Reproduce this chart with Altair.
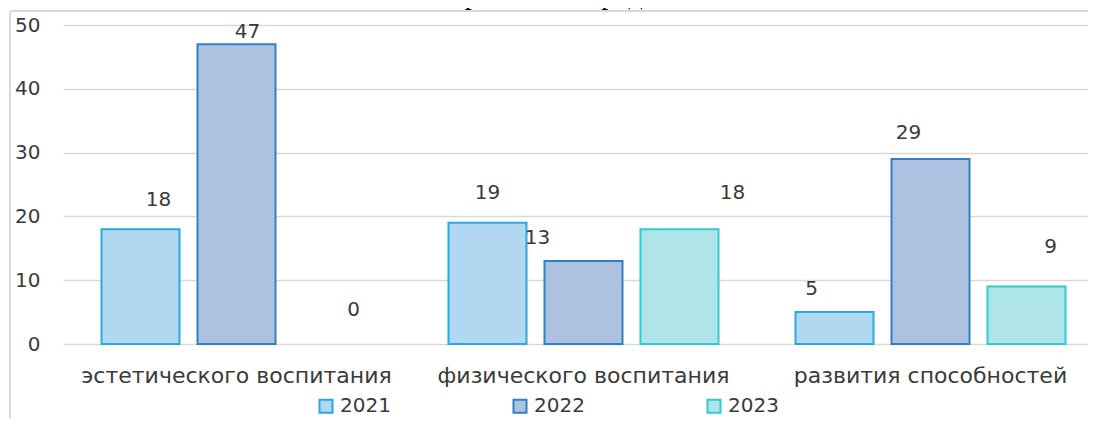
import altair as alt
import pandas as pd

categories = ["эстетического воспитания", "физического воспитания", "развития способностей"]
years = ["2021", "2022", "2023"]
values_2021 = [18, 19, 5]
values_2022 = [47, 13, 29]
values_2023 = [0, 18, 9]
title_text = "района и города"

rows = []
for i, c in enumerate(categories):
    for y, vals in zip(years, [values_2021, values_2022, values_2023]):
        rows.append({"category": c, "year": y, "value": vals[i]})
df = pd.DataFrame(rows)

# label offsets (px) as placed in the original, per (category, year)
label_dx = {
    (0, 0): 18, (0, 1): 11, (0, 2): 21,
    (1, 0): 0, (1, 1): -46, (1, 2): 53,
    (2, 0): -23, (2, 1): -22, (2, 2): 24,
}
label_dy = {
    (0, 0): -29, (0, 1): -12, (0, 2): -34,
    (1, 0): -30, (1, 1): -23, (1, 2): -36,
    (2, 0): -23, (2, 1): -26, (2, 2): -40,
}

FONT = "DejaVu Sans"
FS = 20
TXT = "#3a3a3a"
fills = ["#b2d7f1", "#adc2e0", "#afe5e8"]
strokes = ["#27a9e1", "#2f80c5", "#2ecad6"]

x_enc = alt.X("category:N", sort=categories, title=None,
              scale=alt.Scale(domain=categories, range=[0, 1041],
                              paddingInner=0, paddingOuter=0),
              axis=alt.Axis(labelFontSize=22, labelFont=FONT, labelColor=TXT,
                            labelAngle=0, domain=False, ticks=False,
                            labelPadding=21, labelLimit=400))
xo_enc = alt.XOffset("year:N", sort=years,
                     scale=alt.Scale(domain=years, paddingInner=0.1875,
                                     paddingOuter=0.401))
y_enc = alt.Y("value:Q", title=None,
              scale=alt.Scale(domain=[0, 50], nice=False),
              axis=alt.Axis(values=[0, 10, 20, 30, 40, 50], labelFontSize=FS,
                            labelFont=FONT, labelColor=TXT, domain=False,
                            ticks=False, labelPadding=23, gridColor="#d9d9d9",
                            gridWidth=1.5))

bars = alt.Chart(df).transform_filter(alt.datum.value > 0).mark_bar(
    strokeWidth=2).encode(
    x=x_enc, xOffset=xo_enc, y=y_enc,
    color=alt.Color("year:N", sort=years,
                    scale=alt.Scale(domain=years, range=fills),
                    legend=alt.Legend(title=None, orient="none", legendX=253,
                                      legendY=371, direction="horizontal",
                                      symbolType="square", symbolSize=170,
                                      symbolStrokeWidth=2, labelFontSize=FS,
                                      labelFont=FONT, labelColor=TXT,
                                      columnPadding=118, labelOffset=4)),
    stroke=alt.Stroke("year:N", sort=years,
                      scale=alt.Scale(domain=years, range=strokes), legend=None),
)

layers = [bars]
for ci, c in enumerate(categories):
    for yi, yr in enumerate(years):
        layers.append(
            alt.Chart(df).transform_filter(
                (alt.datum.category == c) & (alt.datum.year == yr)
            ).mark_text(fontSize=FS, font=FONT, color=TXT, baseline="middle",
                        dx=label_dx[(ci, yi)], dy=label_dy[(ci, yi)]).encode(
                x=x_enc, xOffset=xo_enc, y=y_enc, text=alt.Text("value:Q"))
        )

frame_left = alt.Chart(df).mark_rule(color="#d9d9d9", strokeWidth=2).encode(
    x=alt.value(-53), y=alt.value(-14), y2=alt.value(420))
frame_top = alt.Chart(df).mark_rule(color="#d9d9d9", strokeWidth=2).encode(
    x=alt.value(-53), x2=alt.value(1100), y=alt.value(-14))
title_mark = alt.Chart(pd.DataFrame({"t": [title_text]})).mark_text(
    font="Liberation Serif", fontSize=28, color="#000000", align="center",
    baseline="alphabetic").encode(x=alt.value(497), y=alt.value(-21), text="t:N")

chart = alt.layer(frame_left, frame_top, title_mark, *layers).properties(
    width=1025, height=319,
    autosize=alt.AutoSizeParams(type="none"),
    padding={"left": 55, "top": 17, "right": 0, "bottom": 74},
).configure_view(stroke=None)

chart.save("out.html", embed_options={"renderer": "svg", "actions": False})
